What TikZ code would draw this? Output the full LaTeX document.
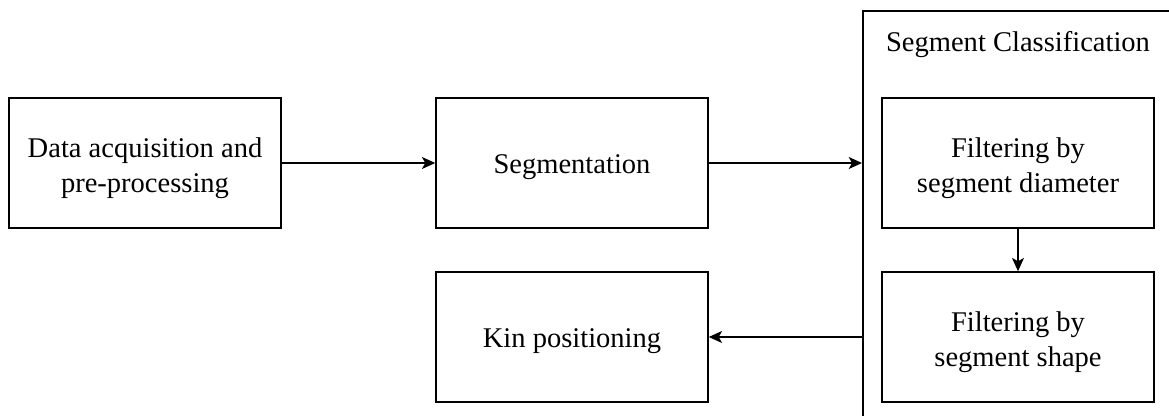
\documentclass[tikz,border=0pt]{standalone}
\usepackage{fontspec}
\setmainfont{Liberation Serif}
\usetikzlibrary{arrows.meta,positioning}
\tikzset{
    procbox/.style={
        draw,
        line width=1.1pt,
        minimum width=204pt,
        minimum height=97.5pt,
        align=center,
        font=\fontsize{21.4}{26.5}\selectfont,
        execute at begin node={\rule{0pt}{#1}}
    },
    procbox/.default=20pt,
    groupbox/.style={
        draw,
        line width=1.1pt,
        minimum width=233.6pt,
        minimum height=310pt
    },
    % arrows between the steps
    flowarrow/.style={
        line width=1.1pt,
        black,
        ->,
        >={Stealth[length=10pt, width=9pt, inset=2.5pt]}
    }
}

\begin{document}
\begin{tikzpicture}[x=0.75pt, y=-0.75pt]
	\useasboundingbox (0,0) rectangle (1169,416);
	\clip (0,0) rectangle (1169,416);

	\node [groupbox] (classif) at (1018.5,217.5) {};
	\node [font=\fontsize{21.4}{25}\selectfont] (classtitle) at (1018,45) {Segment Classification};

	\node [procbox=49pt] (acq) at (145,163) {Data acquisition and\\pre-processing};
	\node [procbox] (seg) at (572,163) {Segmentation};
	\node [procbox] (kin) at (572,337) {Kin positioning};
	\node [procbox=49pt] (diam) at (1018,163) {Filtering by\\segment diameter};
	\node [procbox=49pt] (shape) at (1018,337) {Filtering by\\segment shape};

	\draw[flowarrow] (acq) -- (seg);
	\draw[flowarrow] (seg) -- (classif.west |- seg);
	\draw[flowarrow] (diam) -- (shape);
	\draw[flowarrow] (classif.west |- kin) -- (kin);
\end{tikzpicture}
\end{document}
